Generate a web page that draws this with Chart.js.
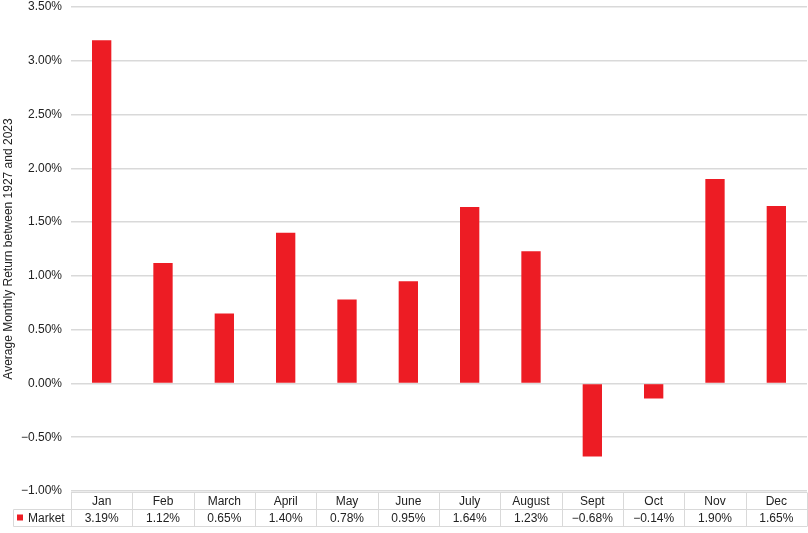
<!DOCTYPE html>
<html>
<head>
<meta charset="utf-8">
<script src="https://cdn.jsdelivr.net/npm/chart.js@4.4.1/dist/chart.umd.min.js"></script>
<style>
  html, body { margin: 0; padding: 0; background: #fff; }
  #wrap { width: 808px; height: 533px; position: relative; }
</style>
</head>
<body>
<div id="wrap"><canvas id="returnsChart"></canvas></div>
<script>
// data
const months = ['Jan', 'Feb', 'March', 'April', 'May', 'June', 'July', 'August', 'Sept', 'Oct', 'Nov', 'Dec'];
const marketReturns = [3.19, 1.12, 0.65, 1.40, 0.78, 0.95, 1.64, 1.23, -0.68, -0.14, 1.90, 1.65];
const yTicks = [-1.0, -0.5, 0.0, 0.5, 1.0, 1.5, 2.0, 2.5, 3.0, 3.5];
const seriesName = 'Market';
const axisTitle = 'Average Monthly Return between 1927 and 2023';

const barRed = '#ED1C24';
const gridGrey = '#d9d9d9';
const textColor = '#222';
const fontFamily = '"Liberation Sans", Arial, Helvetica, sans-serif';

function pct(v) {
    const s = Math.abs(v).toFixed(2) + '%';
    return v < 0 ? '\u2212' + s : s;
}

// draws the data table under the plot (month row + value row)
const dataTable = {
    id: 'dataTable',
    afterDraw(chart) {
        const ctx = chart.ctx;
        const area = chart.chartArea;
        const x = chart.scales.x;
        const colW = (area.right - area.left) / months.length;
        const top = area.bottom + 1.5;
        const mid = top + 17;
        const bot = mid + 17;
        const legendLeft = 13.5;

        ctx.save();
        ctx.strokeStyle = gridGrey;
        ctx.lineWidth = 1;
        ctx.beginPath();
        ctx.moveTo(area.left, top); ctx.lineTo(area.right, top);
        ctx.moveTo(legendLeft, mid); ctx.lineTo(area.right, mid);
        ctx.moveTo(legendLeft, bot); ctx.lineTo(area.right, bot);
        ctx.moveTo(legendLeft, mid); ctx.lineTo(legendLeft, bot);
        for (let i = 0; i <= months.length; i++) {
            const bx = Math.round(area.left + i * colW) + 0.5;
            ctx.moveTo(bx, top); ctx.lineTo(bx, bot);
        }
        ctx.stroke();

        ctx.fillStyle = textColor;
        ctx.font = '12px ' + fontFamily;
        ctx.textAlign = 'center';
        ctx.textBaseline = 'middle';
        months.forEach((m, i) => {
            const cx = x.getPixelForValue(i);
            ctx.fillText(m, cx, (top + mid) / 2 + 0.5);
            ctx.fillText(pct(marketReturns[i]), cx, (mid + bot) / 2 + 0.5);
        });

        // legend key
        ctx.fillStyle = barRed;
        ctx.fillRect(17, mid + 5, 6, 6);
        ctx.fillStyle = textColor;
        ctx.textAlign = 'left';
        ctx.fillText(seriesName, 28, (mid + bot) / 2 + 0.5);
        ctx.restore();
    }
};

new Chart(document.getElementById('returnsChart'), {
    type: 'bar',
    data: {
        labels: months,
        datasets: [{
            label: seriesName,
            data: marketReturns,
            backgroundColor: barRed,
            borderWidth: 0,
            barPercentage: 0.315,
            categoryPercentage: 1.0
        }]
    },
    options: {
        responsive: true,
        maintainAspectRatio: false,
        animation: false,
        devicePixelRatio: 1,
        layout: {
            padding: { top: 7, right: 1, bottom: 42, left: 0 }
        },
        plugins: {
            legend: { display: false },
            tooltip: { enabled: false }
        },
        scales: {
            x: {
                display: false
            },
            y: {
                min: -1.0,
                max: 3.5,
                afterBuildTicks(scale) {
                    scale.ticks = yTicks.map(v => ({ value: v }));
                },
                afterFit(scale) {
                    scale.width = 71;
                    scale.paddingTop = 0;
                    scale.paddingBottom = 0;
                },
                grid: {
                    color: gridGrey,
                    lineWidth: 1.5,
                    drawTicks: false
                },
                border: { display: false },
                ticks: {
                    padding: 9,
                    color: textColor,
                    font: { family: fontFamily, size: 12 },
                    callback: (v) => pct(v)
                },
                title: {
                    display: true,
                    text: axisTitle,
                    color: textColor,
                    font: { family: fontFamily, size: 12 },
                    padding: { top: 1, bottom: 0 }
                }
            }
        }
    },
    plugins: [dataTable]
});
</script>
</body>
</html>
